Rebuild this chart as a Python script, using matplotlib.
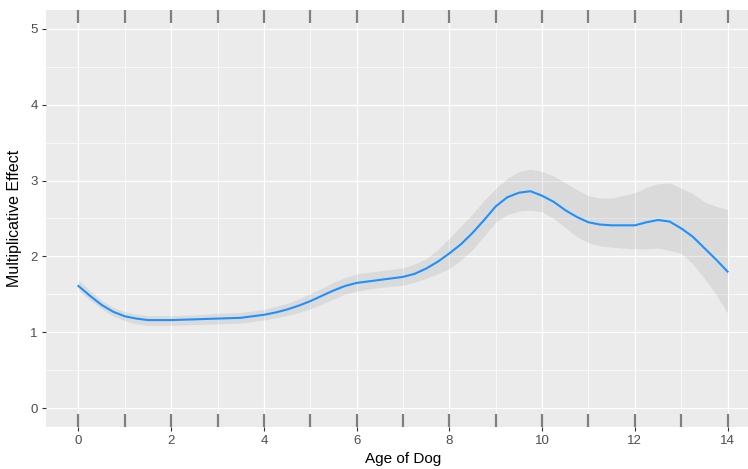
import numpy as np
import matplotlib.pyplot as plt
from matplotlib.transforms import blended_transform_factory

# smoothed effect of age
age = [0, 0.25, 0.5, 0.75, 1, 1.25, 1.5, 2, 2.5, 3, 3.5, 4, 4.25, 4.5, 4.75,
       5, 5.25, 5.5, 5.75, 6, 6.25, 6.5, 7, 7.25, 7.5, 7.75, 8, 8.25, 8.5,
       8.75, 9, 9.25, 9.5, 9.75, 10, 10.25, 10.5, 10.75, 11, 11.25, 11.5,
       12, 12.25, 12.5, 12.75, 13, 13.25, 13.5, 13.75, 14]
effect = [1.61, 1.48, 1.36, 1.27, 1.21, 1.18, 1.16, 1.16, 1.17, 1.18, 1.19,
          1.23, 1.26, 1.30, 1.35, 1.41, 1.48, 1.55, 1.61, 1.65, 1.67, 1.69,
          1.73, 1.77, 1.84, 1.93, 2.04, 2.16, 2.31, 2.48, 2.66, 2.78, 2.84,
          2.86, 2.80, 2.72, 2.61, 2.52, 2.45, 2.42, 2.41, 2.41, 2.45, 2.48,
          2.46, 2.37, 2.26, 2.11, 1.96, 1.80]
lower = [1.55, 1.42, 1.31, 1.21, 1.15, 1.11, 1.09, 1.09, 1.10, 1.11, 1.12,
         1.16, 1.19, 1.22, 1.26, 1.31, 1.37, 1.44, 1.50, 1.54, 1.57, 1.59,
         1.62, 1.66, 1.71, 1.77, 1.84, 1.95, 2.09, 2.27, 2.45, 2.55, 2.60,
         2.61, 2.59, 2.50, 2.38, 2.26, 2.18, 2.14, 2.12, 2.10, 2.10, 2.11,
         2.08, 2.04, 1.90, 1.71, 1.50, 1.25]
upper = [1.69, 1.55, 1.42, 1.33, 1.27, 1.24, 1.22, 1.22, 1.23, 1.25, 1.26,
         1.30, 1.34, 1.38, 1.44, 1.51, 1.58, 1.66, 1.72, 1.77, 1.79, 1.81,
         1.85, 1.90, 1.97, 2.09, 2.24, 2.40, 2.56, 2.74, 2.90, 3.03, 3.12,
         3.15, 3.12, 3.06, 2.97, 2.88, 2.80, 2.77, 2.77, 2.84, 2.91, 2.96,
         2.97, 2.90, 2.83, 2.72, 2.66, 2.62]
rug_ages = [0, 1, 2, 3, 4, 5, 6, 7, 8, 9, 10, 11, 12, 13, 14]

W, H = 748, 469
fig = plt.figure(figsize=(W / 100, H / 100), dpi=100)
# panel runs past the right edge of the image, like the reference
left, right, top, bottom = 46, 760, 10, 427
ax = fig.add_axes([left / W, 1 - bottom / H, (right - left) / W, (bottom - top) / H])
ax.set_facecolor("#EBEBEB")
for s in ax.spines.values():
    s.set_visible(False)

ax.set_xlim(-0.7, 14.7)
ax.set_ylim(-0.25, 5.25)
ax.set_xticks(np.arange(0, 15, 2))
ax.set_xticks(np.arange(1, 15, 2), minor=True)
ax.set_yticks(np.arange(0, 6, 1))
ax.set_yticks(np.arange(0.5, 5.5, 1), minor=True)
ax.grid(which="major", color="white", lw=0.9)
ax.grid(which="minor", color="white", lw=0.5)
ax.set_axisbelow(True)
ax.tick_params(which="major", length=3, width=0.8, color="#333333",
               labelcolor="#4D4D4D", labelsize=9.5, pad=3)
ax.tick_params(which="minor", length=0)

ax.fill_between(age, lower, upper, color="#999999", alpha=0.2, lw=0)
ax.plot(age, effect, color="#1E90FF", lw=1.5, solid_joinstyle="round")

trans = blended_transform_factory(ax.transData, ax.transAxes)
ax.vlines(rug_ages, 0, 0.03, transform=trans, color="#7F7F7F", lw=1.6)
ax.vlines(rug_ages, 0.97, 1, transform=trans, color="#7F7F7F", lw=1.6)

fam = ["Liberation Sans", "DejaVu Sans"]
ax.set_xlabel("Age of Dog", fontsize=11, color="black", labelpad=3, family=fam)
ax.set_ylabel("Multiplicative Effect", fontsize=11.5, color="black",
              labelpad=6, family=fam)
for t in ax.get_xticklabels() + ax.get_yticklabels():
    t.set_family(fam)

fig.savefig("out.png", dpi=100)
